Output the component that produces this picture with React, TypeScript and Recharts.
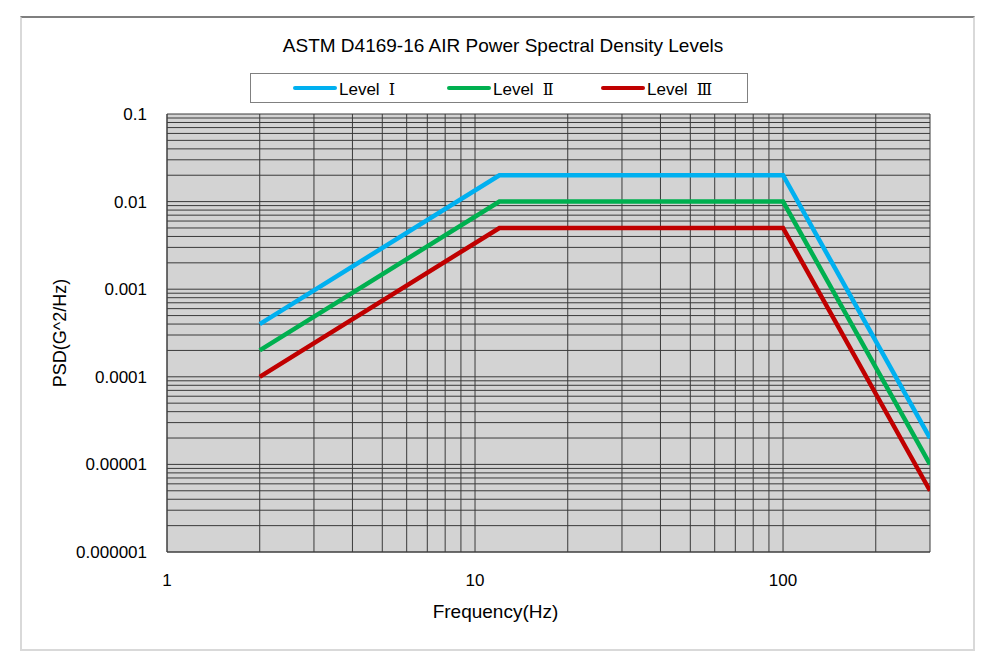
import {
  LineChart,
  Line,
  XAxis,
  YAxis,
  CartesianGrid,
} from "recharts";

const title = "ASTM D4169-16 AIR Power Spectral Density Levels";

const freqs = [2, 12, 100, 300];
const level1 = [0.0004, 0.02, 0.02, 0.00002];
const level2 = [0.0002, 0.01, 0.01, 0.00001];
const level3 = [0.0001, 0.005, 0.005, 0.000005];

const seriesNames = ["Level", "Level", "Level"];
const seriesNumerals = ["Ⅰ", "Ⅱ", "Ⅲ"];
const seriesColors = ["#00B0F0", "#00B050", "#C00000"];

const xTicks = [1, 2, 3, 4, 5, 6, 7, 8, 9, 10, 20, 30, 40, 50, 60, 70, 80, 90, 100, 200, 300];
const xLabels: Record<number, string> = { 1: "1", 10: "10", 100: "100" };

const yDecades = [0.000001, 0.00001, 0.0001, 0.001, 0.01, 0.1];
const yLabels = ["0.000001", "0.00001", "0.0001", "0.001", "0.01", "0.1"];
const yMultipliers = [1, 2, 3, 4, 5, 6, 7, 8, 9];

const yTicks: number[] = [];
yDecades.forEach((d, i) => {
  if (i === yDecades.length - 1) {
    yTicks.push(d);
    return;
  }
  yMultipliers.forEach((m) => yTicks.push(+(d * m).toPrecision(3)));
});

const data = freqs.map((f, i) => ({
  freq: f,
  l1: level1[i],
  l2: level2[i],
  l3: level3[i],
}));

const FONT = '"Liberation Sans", Arial, "Noto Sans CJK JP", sans-serif';

function formatY(v: number): string {
  const idx = yDecades.findIndex((d) => Math.abs(d - v) / d < 1e-6);
  return idx >= 0 ? yLabels[idx] : "";
}

function LegendBox() {
  return (
    <div
      style={{
        position: "absolute",
        left: 250,
        top: 73,
        width: 498,
        height: 30,
        border: "1px solid #808080",
        background: "#fff",
        boxSizing: "border-box",
        fontFamily: FONT,
        fontSize: 17,
        color: "#000",
      }}
    >
      {seriesNames.map((name, i) => (
        <div
          key={i}
          style={{
            position: "absolute",
            left: 42 + i * 154,
            top: 6,
            height: 20,
            display: "flex",
            alignItems: "center",
            whiteSpace: "nowrap",
            lineHeight: "20px",
          }}
        >
          <div
            style={{
              width: 44,
              height: 4,
              borderRadius: 2,
              background: seriesColors[i],
              marginRight: 2,
              marginTop: -4,
            }}
          />
          <span>{name}</span>
          <span
            style={{
              fontFamily: '"DejaVu Serif", "DejaVu Sans"',
              marginLeft: 9,
              fontSize: 16,
              lineHeight: "20px",
            }}
          >
            {seriesNumerals[i]}
          </span>
        </div>
      ))}
    </div>
  );
}

export default function App() {
  return (
    <div style={{ position: "absolute", left: 0, top: 0, width: 990, height: 666, background: "#fff" }}>
      <div
        style={{
          position: "absolute",
          left: 20,
          top: 16,
          width: 955,
          height: 635,
          borderTop: "2px solid #7f7f7f",
          borderLeft: "2px solid #d9d9d9",
          borderRight: "2px solid #d9d9d9",
          borderBottom: "2px solid #d9d9d9",
          boxSizing: "border-box",
        }}
      />
      <div
        style={{
          position: "absolute",
          left: 8,
          width: 990,
          top: 35,
          textAlign: "center",
          fontFamily: FONT,
          fontSize: 19,
          color: "#000",
        }}
      >
        {title}
      </div>
      <div style={{ position: "absolute", left: 0, top: 0 }}>
        <LineChart
          width={990}
          height={666}
          data={data}
          margin={{ top: 114, right: 60, bottom: 34, left: 20 }}
          style={{ fontFamily: FONT }}
        >
          <CartesianGrid stroke="#3a3a3a" strokeWidth={1} fill="#D3D3D3" fillOpacity={1} />
          <XAxis
            dataKey="freq"
            type="number"
            scale="log"
            domain={[1, 300]}
            ticks={xTicks}
            interval={0}
            tickFormatter={(v: number) => xLabels[v] ?? ""}
            tick={{ fill: "#000", fontSize: 17 }}
            tickLine={false}
            axisLine={{ stroke: "#404040" }}
            tickMargin={16}
            height={80}
            allowDataOverflow
            label={{
              value: "Frequency(Hz)",
              position: "insideBottom",
              offset: 14,
              dx: -53,
              style: { fill: "#000", fontSize: 19 },
            }}
          />
          <YAxis
            type="number"
            scale="log"
            domain={[0.000001, 0.1]}
            ticks={yTicks}
            interval={0}
            tickFormatter={formatY}
            tick={{ fill: "#000", fontSize: 17 }}
            tickLine={false}
            axisLine={{ stroke: "#404040" }}
            tickMargin={14}
            width={147}
            allowDataOverflow
            label={{
              value: "PSD(G^2/Hz)",
              angle: -90,
              position: "insideLeft",
              offset: 40,
              style: { fill: "#000", fontSize: 18, textAnchor: "middle" },
            }}
          />
          <Line
            dataKey="l1"
            name="Level Ⅰ"
            stroke={seriesColors[0]}
            strokeWidth={4.5}
            dot={false}
            isAnimationActive={false}
          />
          <Line
            dataKey="l2"
            name="Level Ⅱ"
            stroke={seriesColors[1]}
            strokeWidth={4.5}
            dot={false}
            isAnimationActive={false}
          />
          <Line
            dataKey="l3"
            name="Level Ⅲ"
            stroke={seriesColors[2]}
            strokeWidth={4.5}
            dot={false}
            isAnimationActive={false}
          />
        </LineChart>
      </div>
      <LegendBox />
    </div>
  );
}
